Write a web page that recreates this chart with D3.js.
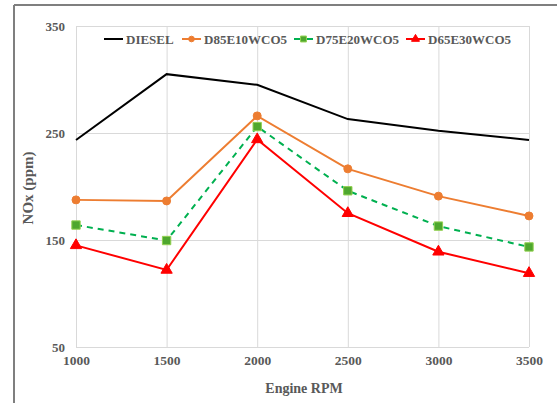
<!DOCTYPE html>
<html><head><meta charset="utf-8">
<script src="https://cdn.jsdelivr.net/npm/d3@7"></script>
<style>body{margin:0;background:#fff}svg{display:block}</style>
</head><body>
<script>
const rpm = [1000, 1500, 2000, 2500, 3000, 3500];
const diesel = [243.5, 305, 295, 263, 252, 243.5];
const d85e10 = [187.5, 186.5, 266, 216.5, 191, 172.5];
const d75e20 = [164, 149.5, 256, 196, 163, 143.5];
const d65e30 = [145, 122, 244, 175, 139, 119];
const yTicks = [50, 150, 250, 350];
const seriesNames = ["DIESEL", "D85E10WCO5", "D75E20WCO5", "D65E30WCO5"];

const W = 557, H = 403;
const svg = d3.select("body").append("svg").attr("width", W).attr("height", H);
const font = "'Liberation Serif','Times New Roman',serif";
const txt = "#595959";

// outer frame
svg.append("line").attr("x1", 14).attr("x2", 14).attr("y1", 5).attr("y2", H).attr("stroke", "#7f7f7f").attr("stroke-width", 2);
svg.append("line").attr("x1", 14).attr("x2", 557).attr("y1", 5).attr("y2", 5).attr("stroke", "#7f7f7f").attr("stroke-width", 2);

const x = d3.scaleLinear().domain([1000, 3500]).range([76, 529]);
const y = d3.scaleLinear().domain([50, 350]).range([347, 26]);

const g = svg.append("g");
g.selectAll(".vg").data(rpm).join("line")
  .attr("x1", d => x(d) + 0.5).attr("x2", d => x(d) + 0.5).attr("y1", y(350)).attr("y2", y(50))
  .attr("stroke", "#d9d9d9").attr("stroke-width", 1);
g.selectAll(".hg").data(yTicks).join("line")
  .attr("x1", x(1000)).attr("x2", x(3500)).attr("y1", d => Math.round(y(d)) + 0.5).attr("y2", d => Math.round(y(d)) + 0.5)
  .attr("stroke", "#d9d9d9").attr("stroke-width", 1);

const yAxis = d3.axisLeft(y).tickValues(yTicks).tickSize(0).tickPadding(11);
const ya = svg.append("g").attr("transform", `translate(${x(1000)},0)`).call(yAxis);
ya.select(".domain").remove();
ya.selectAll("text").attr("font-family", font).attr("font-weight", "bold").attr("font-size", 13).attr("fill", txt);

const xAxis = d3.axisBottom(x).tickValues(rpm).tickFormat(d3.format("d")).tickSize(0).tickPadding(8);
const xa = svg.append("g").attr("transform", `translate(0,${y(50)})`).call(xAxis);
xa.select(".domain").remove();
xa.selectAll("text").attr("font-family", font).attr("font-weight", "bold").attr("font-size", 13.5).attr("fill", txt);

svg.append("text").attr("x", 304).attr("y", 393).attr("text-anchor", "middle")
  .attr("font-family", font).attr("font-weight", "bold").attr("font-size", 14).attr("fill", txt).text("Engine RPM");
svg.append("text").attr("transform", `translate(33,188) rotate(-90)`).attr("text-anchor", "middle")
  .attr("font-family", font).attr("font-weight", "bold").attr("font-size", 15).attr("fill", txt).text("NOx (ppm)");

const series = [
  {name: seriesNames[0], vals: diesel, color: "#000000", dash: null, marker: null},
  {name: seriesNames[1], vals: d85e10, color: "#ED7D31", dash: null, marker: "circle"},
  {name: seriesNames[2], vals: d75e20, color: "#00B050", dash: "6,5", marker: "square"},
  {name: seriesNames[3], vals: d65e30, color: "#FF0000", dash: null, marker: "triangle"}
];
const markerFill = {circle: "#ED7D31", square: "#4EA72E", triangle: "#FF0000"};
const markerStroke = {circle: "#ED7D31", square: "#92D050", triangle: "#FF0000"};
const symType = {circle: d3.symbolCircle, square: d3.symbolSquare, triangle: d3.symbolTriangle};
const symSize = {circle: 50, square: 70, triangle: 55};

const line = d3.line().x((d, i) => x(rpm[i])).y(d => y(d));
series.forEach(s => {
  svg.append("path").attr("d", line(s.vals)).attr("fill", "none").attr("stroke", s.color)
    .attr("stroke-width", 2).attr("stroke-dasharray", s.dash);
  if (s.marker) {
    svg.selectAll(null).data(s.vals).join("path")
      .attr("transform", (d, i) => `translate(${x(rpm[i])},${y(d)})`)
      .attr("d", d3.symbol().type(symType[s.marker]).size(symSize[s.marker]))
      .attr("fill", markerFill[s.marker]).attr("stroke", markerStroke[s.marker]).attr("stroke-width", 1);
  }
});

const legX = [104, 182, 294, 406];
const lg = svg.append("g");
series.forEach((s, i) => {
  const lx = legX[i], ly = 39;
  lg.append("line").attr("x1", lx).attr("x2", lx + 19).attr("y1", ly).attr("y2", ly)
    .attr("stroke", s.color).attr("stroke-width", 2);
  if (s.marker) {
    lg.append("path").attr("transform", `translate(${lx + 9.5},${ly})`)
      .attr("d", d3.symbol().type(symType[s.marker]).size(symSize[s.marker] * 0.5))
      .attr("fill", markerFill[s.marker]).attr("stroke", markerStroke[s.marker]).attr("stroke-width", 1);
  }
  lg.append("text").attr("x", lx + 22).attr("y", ly + 4.5)
    .attr("font-family", font).attr("font-weight", "bold").attr("font-size", 13).attr("fill", txt).text(s.name);
});
</script>
</body></html>
